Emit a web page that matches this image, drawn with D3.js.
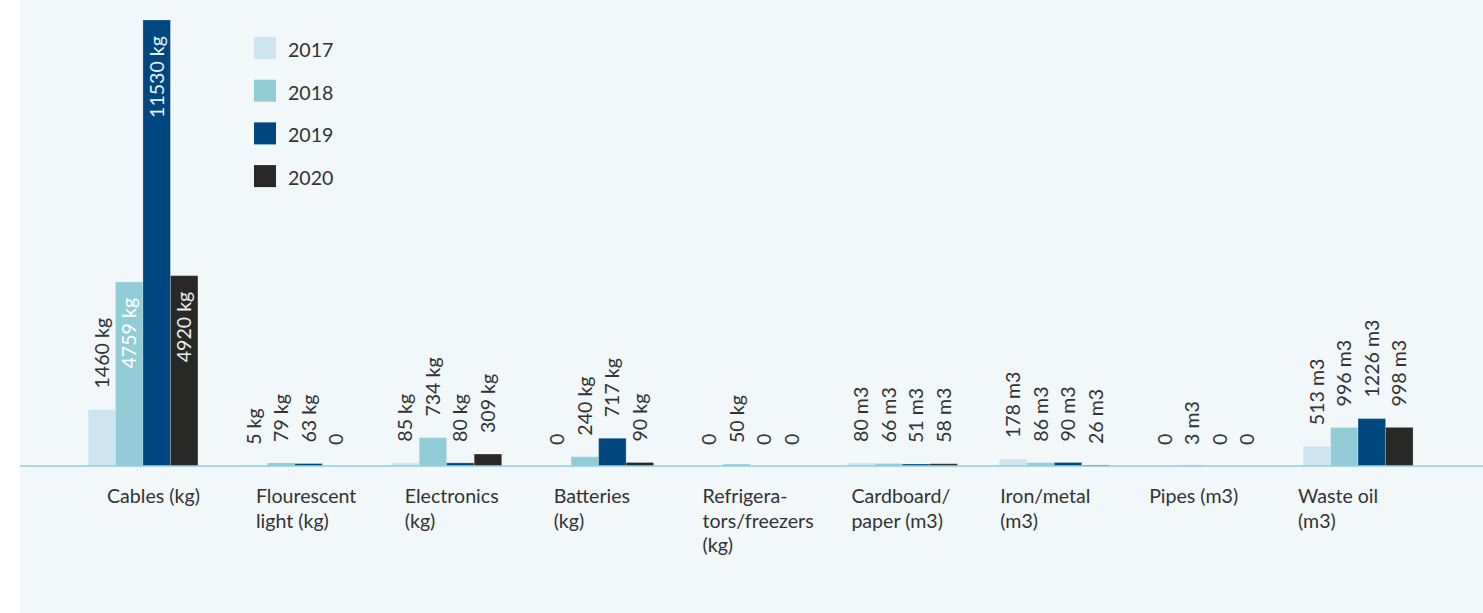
<!DOCTYPE html>
<html>
<head>
<meta charset="utf-8">
<script src="https://cdn.jsdelivr.net/npm/d3@7"></script>
<style>
  body { margin: 0; background: #ffffff; }
  svg { display: block; font-family: Lato, "Open Sans", sans-serif; }
</style>
</head>
<body>
<div id="vis"></div>
<script>
// declare constants
const FRAME_WIDTH = 1483
const FRAME_HEIGHT = 613
const BASE_Y = 466
const TOP_Y = 20
const FONT = '19.6px'

// data
const categories = ["Cables (kg)", "Flourescent light (kg)", "Electronics (kg)", "Batteries (kg)",
  "Refrigerators/freezers (kg)", "Cardboard/paper (m3)", "Iron/metal (m3)", "Pipes (m3)", "Waste oil (m3)"]
const categoryLines = [
  ["Cables (kg)"], ["Flourescent", "light (kg)"], ["Electronics", "(kg)"], ["Batteries", "(kg)"],
  ["Refrigera-", "tors/freezers", "(kg)"], ["Cardboard/", "paper (m3)"], ["Iron/metal", "(m3)"],
  ["Pipes (m3)"], ["Waste oil", "(m3)"]
]
const units = ["kg", "kg", "kg", "kg", "kg", "m3", "m3", "m3", "m3"]
const years = ["2017", "2018", "2019", "2020"]
const values2017 = [1460, 5, 85, 0, 0, 80, 178, 0, 513]
const values2018 = [4759, 79, 734, 240, 50, 66, 86, 3, 996]
const values2019 = [11530, 63, 80, 717, 0, 51, 90, 0, 1226]
const values2020 = [4920, 0, 309, 90, 0, 58, 26, 0, 998]
const seriesValues = [values2017, values2018, values2019, values2020]
const colors = ["#cde5f0", "#92cdd7", "#00477f", "#282826"]
const insideLabelColor = ["#ffffff", "#ffffff", "#e8eef3", "#e8eef3"]

const svg = d3.select('#vis')
  .append('svg')
  .attr('width', FRAME_WIDTH)
  .attr('height', FRAME_HEIGHT)

// background panel
svg.append('rect')
  .attr('x', 20).attr('y', 0)
  .attr('width', FRAME_WIDTH - 20).attr('height', FRAME_HEIGHT)
  .attr('fill', '#f2f7fa')

// scales
const x = d3.scaleBand()
  .domain(categories)
  .range([67, 1434])
  .paddingInner(0.276)
  .paddingOuter(0.138)

const xYear = d3.scaleBand()
  .domain(years)
  .range([0, x.bandwidth()])

const xLabel = d3.scalePoint()
  .domain(categories)
  .range([107, 1298])

const y = d3.scaleLinear()
  .domain([0, d3.max(values2019)])
  .range([BASE_Y, TOP_Y])

const color = d3.scaleOrdinal().domain(years).range(colors)

// flatten for drawing
const rows = []
categories.forEach((c, i) => {
  years.forEach((yr, j) => {
    rows.push({cat: c, year: yr, j: j, value: seriesValues[j][i], unit: units[i]})
  })
})

// bars
svg.append('g').selectAll('rect')
  .data(rows.filter(d => d.value > 0))
  .enter()
  .append('rect')
    .attr('x', d => x(d.cat) + xYear(d.year))
    .attr('y', d => Math.min(y(d.value), BASE_Y - 1))
    .attr('width', xYear.bandwidth())
    .attr('height', d => Math.max(BASE_Y - y(d.value), 1))
    .attr('fill', d => color(d.year))
    .attr('stroke', 'rgba(255,255,255,0.22)')
    .attr('stroke-width', 1)

// baseline
svg.append('line')
  .attr('x1', 20).attr('x2', FRAME_WIDTH)
  .attr('y1', BASE_Y).attr('y2', BASE_Y)
  .attr('stroke', '#8fd0da')
  .attr('stroke-width', 1.5)

// value labels, rotated
const labelText = d => d.value === 0 ? "0" : d.value + " " + d.unit
const isInside = d => (BASE_Y - y(d.value)) > 150

svg.append('g').selectAll('text')
  .data(rows)
  .enter()
  .append('text')
    .attr('transform', d => {
      const cx = x(d.cat) + xYear(d.year) + xYear.bandwidth() / 2 + 7
      const cy = isInside(d) ? y(d.value) + 16 : y(d.value) - 21
      return "translate(" + cx + "," + cy + ") rotate(-90)"
    })
    .attr('text-anchor', d => isInside(d) ? 'end' : 'start')
    .attr('font-size', FONT)
    .attr('fill', d => isInside(d) ? insideLabelColor[d.j] : '#333333')
    .text(labelText)

// category labels
const catG = svg.append('g').selectAll('text')
  .data(categories)
  .enter()
  .append('text')
    .attr('x', d => xLabel(d))
    .attr('y', 503)
    .attr('font-size', FONT)
    .attr('fill', '#333333')

catG.selectAll('tspan')
  .data((d, i) => categoryLines[i])
  .enter()
  .append('tspan')
    .attr('x', function() { return d3.select(this.parentNode).attr('x') })
    .attr('dy', (d, k) => k === 0 ? 0 : 24.5)
    .text(d => d)

// legend
const legend = svg.append('g').selectAll('g')
  .data(years)
  .enter()
  .append('g')
    .attr('transform', (d, i) => "translate(254," + (37 + i * 42.7) + ")")

legend.append('rect')
  .attr('width', 22).attr('height', 22)
  .attr('fill', d => color(d))

legend.append('text')
  .attr('x', 34).attr('y', 20)
  .attr('font-size', FONT)
  .attr('fill', '#333333')
  .text(d => d)
</script>
</body>
</html>
